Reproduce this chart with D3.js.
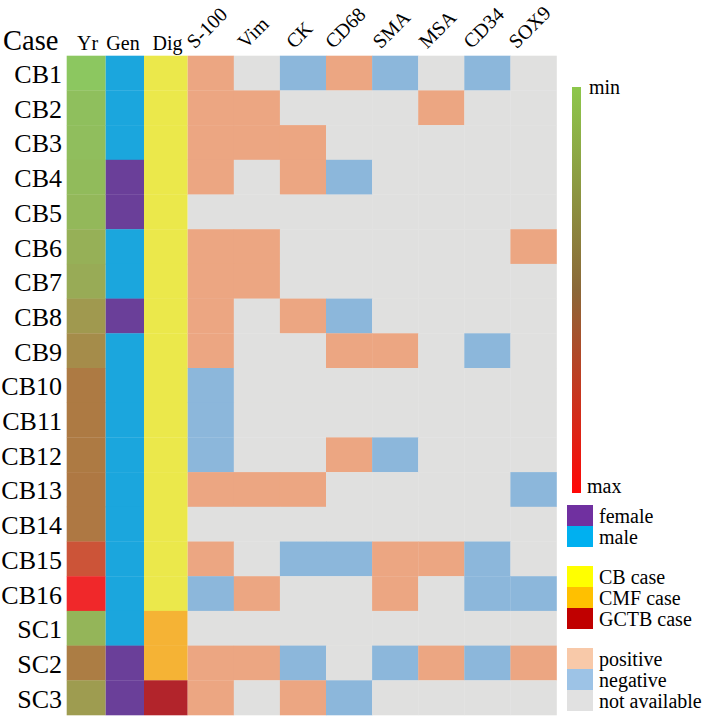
<!DOCTYPE html>
<html>
<head>
<meta charset="utf-8">
<script src="https://cdn.jsdelivr.net/npm/d3@7"></script>
<style>
  html, body { margin: 0; padding: 0; background: #ffffff; }
  svg { display: block; }
  svg text { font-family: 'Liberation Serif', Tinos, 'Times New Roman', Times, 'DejaVu Serif', serif; fill: #000; }
</style>
</head>
<body>
<svg id="chart" width="709" height="716"></svg>
<script>
// ---------------- DATA ----------------
const cases = ["CB1","CB2","CB3","CB4","CB5","CB6","CB7","CB8","CB9","CB10","CB11","CB12","CB13","CB14","CB15","CB16","SC1","SC2","SC3"];
const yrLevel = [0.00,0.05,0.06,0.08,0.10,0.15,0.18,0.30,0.38,0.50,0.50,0.50,0.51,0.51,0.73,1.00,0.12,0.48,0.28];
const gender = ["male","male","male","female","female","male","male","female","male","male","male","male","male","male","male","male","male","female","female"];
const diagnosis = ["CB","CB","CB","CB","CB","CB","CB","CB","CB","CB","CB","CB","CB","CB","CB","CB","CMF","CMF","GCTB"];
const markers = ["S-100","Vim","CK","CD68","SMA","MSA","CD34","SOX9"];
const annotCols = ["Yr","Gen","Dig"];
// P = positive, N = negative, . = not available ; one string per case, one char per marker
const stains = [
  "P.NPN.N.", // CB1
  "PP...P..", // CB2
  "PPP.....", // CB3
  "P.PN....", // CB4
  "........", // CB5
  "PP.....P", // CB6
  "PP......", // CB7
  "P.PN....", // CB8
  "P..PP.N.", // CB9
  "N.......", // CB10
  "N.......", // CB11
  "N..PN...", // CB12
  "PPP....N", // CB13
  "........", // CB14
  "P.NNPPN.", // CB15
  "NP..P.NN", // CB16
  "........", // SC1
  "PPN.NPNP", // SC2
  "P.PN...."  // SC3
];
const genderLegend = ["female","male"];
const diagLegend = [["CB","CB case"],["CMF","CMF case"],["GCTB","GCTB case"]];
const stainLegend = [["P","positive"],["N","negative"],[".","not available"]];

// ---------------- STYLES ----------------
const cellGender = {female:"#6a3f99", male:"#1ba6dd"};
const cellDiag = {CB:"#ebe84b", CMF:"#f5b335", GCTB:"#b2242b"};
const cellStain = {P:"#eca682", N:"#8cb7db", ".":"#e0e0df"};
const legGender = {female:"#7030a0", male:"#00b0f0"};
const legDiag = {CB:"#ffff00", CMF:"#ffc000", GCTB:"#c00000"};
const legStain = {P:"#f8c9a9", N:"#9dc3e6", ".":"#e1e1e1"};
const yrColor = d3.scaleLinear().domain([0,0.5,1]).range(["#8cc760","#ad7a43","#f0282a"]);

// ---------------- LAYOUT ----------------
const svg = d3.select("#chart");
const gridTop = 55.7, gridBottom = 715;
const y = d3.scaleBand().domain(cases).range([gridTop, gridBottom]).padding(0);
const annotX = d3.scaleOrdinal().domain(annotCols).range([66.7, 105.7, 144]);
const annotW = d3.scaleOrdinal().domain(annotCols).range([39, 38.3, 43.7]);
const annotLabelX = d3.scaleOrdinal().domain(annotCols).range([87.5, 123, 167.5]);
const x = d3.scaleBand().domain(markers).range([187.7, 556.5]).padding(0);

const g = svg.append("g");

// Yr
g.selectAll("rect.yr").data(cases).join("rect").attr("class","yr")
  .attr("x", annotX("Yr")).attr("y", d => y(d))
  .attr("width", annotW("Yr")).attr("height", y.bandwidth() + 0.3)
  .attr("fill", (d,i) => yrColor(yrLevel[i]));
// Gen
g.selectAll("rect.gen").data(cases).join("rect").attr("class","gen")
  .attr("x", annotX("Gen")).attr("y", d => y(d))
  .attr("width", annotW("Gen")).attr("height", y.bandwidth() + 0.3)
  .attr("fill", (d,i) => cellGender[gender[i]]);
// Dig
g.selectAll("rect.dig").data(cases).join("rect").attr("class","dig")
  .attr("x", annotX("Dig")).attr("y", d => y(d))
  .attr("width", annotW("Dig")).attr("height", y.bandwidth() + 0.3)
  .attr("fill", (d,i) => cellDiag[diagnosis[i]]);

// marker cells
const cells = [];
cases.forEach((c, i) => markers.forEach((m, j) => cells.push({c, m, v: stains[i][j]})));
g.selectAll("rect.cell").data(cells).join("rect").attr("class","cell")
  .attr("x", d => x(d.m)).attr("y", d => y(d.c))
  .attr("width", x.bandwidth() + 0.3).attr("height", y.bandwidth() + 0.3)
  .attr("fill", d => cellStain[d.v]);

// row labels
svg.selectAll("text.row").data(cases).join("text").attr("class","row")
  .attr("x", 62).attr("y", d => y(d) + y.bandwidth()/2 + 10)
  .attr("text-anchor", "end").attr("font-size", 26).text(d => d);

// header
svg.append("text").attr("x", 3).attr("y", 50).attr("font-size", 28.5).text("Case");
svg.selectAll("text.annot").data(annotCols).join("text").attr("class","annot")
  .attr("x", d => annotLabelX(d)).attr("y", 50)
  .attr("text-anchor", "middle").attr("font-size", 20).text(d => d);
// rotated marker labels: centred on the column, lower end resting on a common line
const mk = svg.selectAll("text.mk").data(markers).join("text").attr("class","mk")
  .attr("text-anchor", "middle").attr("font-size", 20).text(d => d);
mk.each(function(d) {
  const L = this.getComputedTextLength();
  const h = L * Math.SQRT1_2 / 2;
  d3.select(this).attr("transform",
    `translate(${x(d) + x.bandwidth()/2 + 1},${49.5 - h}) rotate(-45)`);
});

// ---------------- LEGEND ----------------
const defs = svg.append("defs");
const grad = defs.append("linearGradient").attr("id", "yrgrad")
  .attr("x1", 0).attr("y1", 0).attr("x2", 0).attr("y2", 1);
grad.append("stop").attr("offset", "0%").attr("stop-color", "#8dc74b");
grad.append("stop").attr("offset", "50%").attr("stop-color", "#8b6838");
grad.append("stop").attr("offset", "100%").attr("stop-color", "#ff0606");
svg.append("rect").attr("x", 572).attr("y", 87).attr("width", 9).attr("height", 406)
  .attr("fill", "url(#yrgrad)");
svg.append("text").attr("x", 589).attr("y", 94).attr("font-size", 20).text("min");
svg.append("text").attr("x", 587).attr("y", 493).attr("font-size", 20).text("max");

const sw = 26, sh = 21, lx = 567, tx = 599;
function legendBlock(items, y0, colorOf, labelOf) {
  const gg = svg.append("g");
  gg.selectAll("rect").data(items).join("rect")
    .attr("x", lx).attr("y", (d,i) => y0 + i*sh).attr("width", sw).attr("height", sh)
    .attr("fill", colorOf);
  gg.selectAll("text").data(items).join("text")
    .attr("x", tx).attr("y", (d,i) => y0 + i*sh + sh/2 + 7)
    .attr("font-size", 20).text(labelOf);
}
legendBlock(genderLegend, 505, d => legGender[d], d => d);
legendBlock(diagLegend, 566, d => legDiag[d[0]], d => d[1]);
legendBlock(stainLegend, 648, d => legStain[d[0]], d => d[1]);
</script>
</body>
</html>
